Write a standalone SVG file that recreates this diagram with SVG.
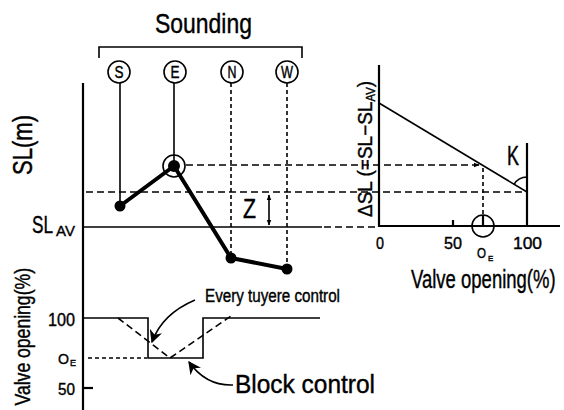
<svg xmlns="http://www.w3.org/2000/svg" width="564" height="410" viewBox="0 0 564 410">
<defs>
<style>
.t{font-family:"Liberation Sans",Arial,sans-serif;fill:#000;stroke:#000;stroke-width:0.4}
.ax{stroke:#000;stroke-width:2.2;fill:none}
.th{stroke:#000;stroke-width:1.6;fill:none}
.ds{stroke:#000;stroke-width:1.6;fill:none;stroke-dasharray:7 4}
.dt{stroke:#000;stroke-width:1.6;fill:none;stroke-dasharray:4 3}
.bold{stroke:#000;stroke-width:4;fill:none;stroke-linejoin:round}
.dot{fill:#000}
</style>
<marker id="ah" viewBox="0 0 10 10" refX="9" refY="5" markerWidth="6" markerHeight="6" orient="auto-start-reverse" markerUnits="userSpaceOnUse">
<path d="M0,1 L10,5 L0,9 z" fill="#000"/>
</marker>
<marker id="ahb" viewBox="0 0 10 10" refX="9" refY="5" markerWidth="13" markerHeight="13" orient="auto" markerUnits="userSpaceOnUse">
<path d="M0,0 L10,5 L0,10 L3,5 z" fill="#000"/>
</marker>
</defs>
<rect width="564" height="410" fill="#fff"/>

<g id="title">
<text class="t" x="155" y="33" font-size="28" textLength="97" lengthAdjust="spacingAndGlyphs">Sounding</text>
<path class="th" d="M99,58 V47 H302 V58" stroke-width="2"/>
</g>

<g id="sounding-S">
<circle cx="119" cy="72" r="11" class="th"/>
<text class="t" x="119" y="78" font-size="16" text-anchor="middle" textLength="9" lengthAdjust="spacingAndGlyphs">S</text>
</g>
<g id="sounding-E">
<circle cx="175" cy="72" r="11" class="th"/>
<text class="t" x="175" y="78" font-size="16" text-anchor="middle" textLength="9" lengthAdjust="spacingAndGlyphs">E</text>
</g>
<g id="sounding-N">
<circle cx="232" cy="72" r="11" class="th"/>
<text class="t" x="232" y="78" font-size="16" text-anchor="middle" textLength="9" lengthAdjust="spacingAndGlyphs">N</text>
</g>
<g id="sounding-W">
<circle cx="287" cy="72" r="11" class="th"/>
<text class="t" x="287" y="78" font-size="16" text-anchor="middle" textLength="12" lengthAdjust="spacingAndGlyphs">W</text>
</g>

<g id="connectors">
<line class="th" x1="120" y1="83" x2="120" y2="206"/>
<line class="th" x1="174" y1="83" x2="174" y2="165"/>
<line class="dt" x1="231" y1="83" x2="231" y2="258"/>
<line class="dt" x1="287" y1="83" x2="287" y2="269"/>
<line class="ds" x1="86" y1="192" x2="527" y2="192"/>
<line class="ds" x1="186" y1="165" x2="479" y2="165" marker-end="url(#ah)"/>
<line class="th" x1="83" y1="227" x2="322" y2="227"/>
<line class="ds" x1="324" y1="227" x2="378" y2="227"/>
<line class="dt" x1="483" y1="168" x2="483" y2="226"/>
<line class="th" x1="269" y1="195" x2="269" y2="225" marker-start="url(#ah)" marker-end="url(#ah)"/>
<polyline class="bold" points="120,206 174,166 231,258 287,269"/>
<path class="th" d="M83,318 H148 V358 H203 V318 H320" stroke-width="2"/>
<line class="dt" x1="88" y1="358" x2="147" y2="358"/>
<polyline class="ds" points="118,318 170,358 231,316"/>
<path class="th" d="M195,300 Q162,314 152,342" stroke-width="2" marker-end="url(#ahb)"/>
<path class="th" d="M233,385 Q206,386 189,362" stroke-width="2" marker-end="url(#ahb)"/>
<line class="th" x1="379" y1="103" x2="527" y2="192"/>
<line class="ax" x1="527" y1="143" x2="527" y2="226"/>
<path class="th" d="M514.1,184.3 A15,15 0 0,1 527,177"/>
</g>

<g id="axes">
<line class="ax" x1="83" y1="83" x2="83" y2="410"/>
<line class="ax" x1="83" y1="388" x2="93" y2="388"/>
<line class="ax" x1="379" y1="65" x2="379" y2="227"/>
<line class="ax" x1="379" y1="226" x2="560" y2="226"/>
<line class="ax" x1="453" y1="220" x2="453" y2="226"/>
</g>

<g id="points">
<circle class="dot" cx="120" cy="206" r="5.5"/>
<circle cx="174" cy="166" r="11" class="th" stroke-width="2"/>
<circle class="dot" cx="174" cy="166" r="6"/>
<circle class="dot" cx="231" cy="258" r="5.5"/>
<circle class="dot" cx="287" cy="269" r="5.5"/>
<circle cx="483" cy="226" r="11" class="th" stroke-width="2.2"/>
<line class="ax" x1="483" y1="215" x2="483" y2="226"/>
</g>

<g id="labels">
<text class="t" font-size="28" transform="translate(32,175) rotate(-90)" textLength="60" lengthAdjust="spacingAndGlyphs">SL(m)</text>
<text class="t" font-size="24" transform="translate(32,233) scale(0.716,1)">SL</text>
<text class="t" x="56" y="236" font-size="15">AV</text>
<text class="t" x="243" y="218" font-size="27" textLength="13" lengthAdjust="spacingAndGlyphs">Z</text>
<text class="t" font-size="22" transform="translate(30,268) rotate(-90) scale(0.8,1)" text-anchor="end">Valve opening(%)</text>
<text class="t" x="48" y="326" font-size="18" textLength="27" lengthAdjust="spacingAndGlyphs">100</text>
<text class="t" x="58" y="364" font-size="15" textLength="11" lengthAdjust="spacingAndGlyphs">O</text>
<text class="t" x="70" y="366" font-size="9">E</text>
<text class="t" x="58" y="395" font-size="17" textLength="17" lengthAdjust="spacingAndGlyphs">50</text>
<text class="t" x="205" y="302" font-size="18" textLength="135" lengthAdjust="spacingAndGlyphs">Every tuyere control</text>
<text class="t" x="235" y="393" font-size="25" textLength="140" lengthAdjust="spacingAndGlyphs">Block control</text>
<text class="t" x="507" y="165" font-size="27" textLength="12" lengthAdjust="spacingAndGlyphs">K</text>
<g transform="translate(372,217) rotate(-90) scale(0.95,1)">
<text class="t" font-size="20">ΔSL (=SL−SL<tspan font-size="12" dy="3">AV</tspan><tspan dy="-3">)</tspan></text>
</g>
<text class="t" x="376" y="249" font-size="17" textLength="8" lengthAdjust="spacingAndGlyphs">0</text>
<text class="t" x="444" y="249" font-size="17" textLength="18" lengthAdjust="spacingAndGlyphs">50</text>
<text class="t" x="513" y="249" font-size="17" textLength="29" lengthAdjust="spacingAndGlyphs">100</text>
<text class="t" x="477" y="258" font-size="14" textLength="9" lengthAdjust="spacingAndGlyphs">O</text>
<text class="t" x="488" y="261" font-size="8">E</text>
<text class="t" font-size="25" transform="translate(411,288) scale(0.74,1)">Valve opening(%)</text>
</g>
</svg>
